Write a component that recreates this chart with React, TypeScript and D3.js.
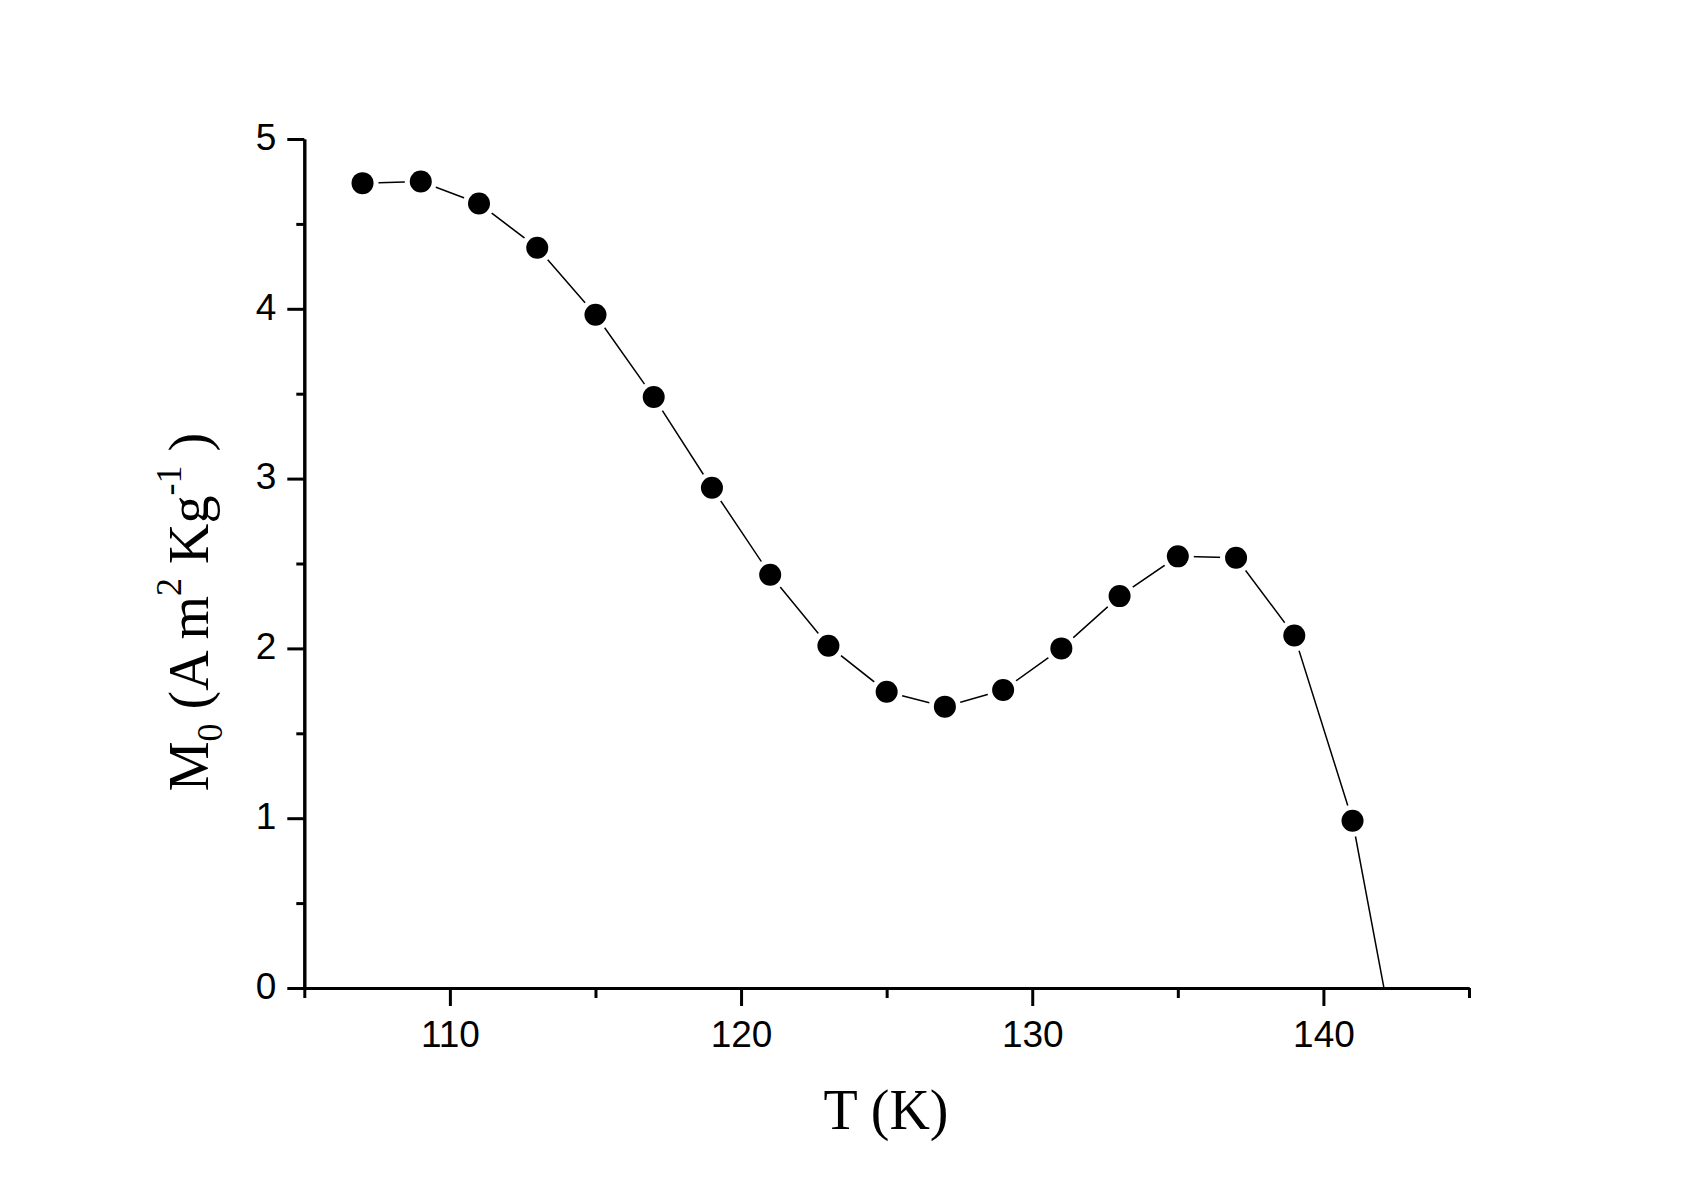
import { useRef, useEffect } from "react";
import * as d3 from "d3";

// temperature (K) and M0 (A m^2 Kg^-1)
const temps = [107, 109, 111, 113, 115, 117, 119, 121, 123, 125, 127, 129, 131, 133, 135, 137, 139, 141, 143];
const moments = [4.74, 4.75, 4.62, 4.36, 3.965, 3.48, 2.946, 2.434, 2.016, 1.745, 1.657, 1.755, 2.0, 2.308, 2.542, 2.534, 2.076, 0.985, -0.84];

const xMajor = [110, 120, 130, 140];
const xMinor = [105, 115, 125, 135, 145];
const yMajor = [0, 1, 2, 3, 4, 5];
const yMinor = [0.5, 1.5, 2.5, 3.5, 4.5];

const W = 1707;
const H = 1186;

export default function App() {
  const svgRef = useRef<SVGSVGElement>(null);

  useEffect(() => {
    const svg = d3.select(svgRef.current);
    svg.selectAll("*").remove();

    const x = d3.scaleLinear().domain([105, 145]).range([304.3, 1469]);
    const y = d3.scaleLinear().domain([0, 5]).range([988, 139]);

    const sans = "Arial, 'Liberation Sans', sans-serif";
    const serif = "'Times New Roman', 'Liberation Serif', serif";

    svg.append("rect").attr("width", W).attr("height", H).attr("fill", "#fff");

    // data, clipped to the axis frame
    svg
      .append("defs")
      .append("clipPath")
      .attr("id", "plotClip")
      .append("rect")
      .attr("x", x(105))
      .attr("y", y(5))
      .attr("width", x(145) - x(105))
      .attr("height", y(0) - y(5));

    const pts = temps.map((t, i) => ({ t, m: moments[i] }));
    const g = svg.append("g").attr("clip-path", "url(#plotClip)");

    const line = d3
      .line<{ t: number; m: number }>()
      .x((d) => x(d.t))
      .y((d) => y(d.m));

    g.append("path")
      .datum(pts)
      .attr("d", line)
      .attr("fill", "none")
      .attr("stroke", "#000")
      .attr("stroke-width", 1.5);

    g.selectAll("circle.halo")
      .data(pts)
      .join("circle")
      .attr("class", "halo")
      .attr("cx", (d) => x(d.t))
      .attr("cy", (d) => y(d.m))
      .attr("r", 16)
      .attr("fill", "#fff");

    g.selectAll("circle.dot")
      .data(pts)
      .join("circle")
      .attr("class", "dot")
      .attr("cx", (d) => x(d.t))
      .attr("cy", (d) => y(d.m))
      .attr("r", 11)
      .attr("fill", "#000");

    // x axis
    const xAxis = svg.append("g").attr("transform", `translate(0,${y(0)})`);
    xAxis
      .append("g")
      .call(d3.axisBottom(x).tickValues(xMinor).tickSize(10).tickSizeOuter(0).tickFormat(() => ""));
    xAxis
      .append("g")
      .call(
        d3.axisBottom(x).tickValues(xMajor).tickSize(18).tickSizeOuter(0).tickPadding(15).tickFormat(d3.format("d"))
      );
    xAxis.selectAll(".domain").attr("stroke-width", 3);
    xAxis.selectAll(".tick line").attr("stroke-width", 3);
    xAxis
      .selectAll(".tick text")
      .attr("font-family", sans)
      .attr("font-size", 37)
      .attr("fill", "#000");

    // y axis
    const yAxis = svg.append("g").attr("transform", `translate(${x(105)},0)`);
    yAxis
      .append("g")
      .call(d3.axisLeft(y).tickValues(yMinor).tickSize(8).tickSizeOuter(0).tickFormat(() => ""));
    yAxis
      .append("g")
      .call(
        d3.axisLeft(y).tickValues(yMajor).tickSize(17).tickSizeOuter(0).tickPadding(11).tickFormat(d3.format("d"))
      );
    yAxis.selectAll(".domain").attr("stroke-width", 3);
    yAxis.selectAll(".tick line").attr("stroke-width", 3);
    yAxis
      .selectAll(".tick text")
      .attr("font-family", sans)
      .attr("font-size", 37)
      .attr("dy", "0.28em")
      .attr("fill", "#000");

    // axis titles
    svg
      .append("text")
      .attr("x", 886)
      .attr("y", 1129)
      .attr("text-anchor", "middle")
      .attr("font-family", serif)
      .attr("font-size", 56)
      .text("T (K)");

    const yt = svg
      .append("text")
      .attr("transform", `translate(208,612) rotate(-90)`)
      .attr("text-anchor", "middle")
      .attr("font-family", serif)
      .attr("font-size", 56);
    yt.append("tspan").text("M");
    yt.append("tspan").attr("font-size", 36).attr("dy", 14).text("0");
    yt.append("tspan").attr("dy", -14).text(" (A m");
    yt.append("tspan").attr("font-size", 36).attr("dy", -27).text("2");
    yt.append("tspan").attr("dy", 27).text(" Kg");
    yt.append("tspan").attr("font-size", 36).attr("dy", -27).text("-1");
    yt.append("tspan").attr("dy", 27).text(" )");
  }, []);

  return (
    <svg
      ref={svgRef}
      width={W}
      height={H}
      style={{ position: "absolute", left: 0, top: 0, display: "block" }}
    />
  );
}
